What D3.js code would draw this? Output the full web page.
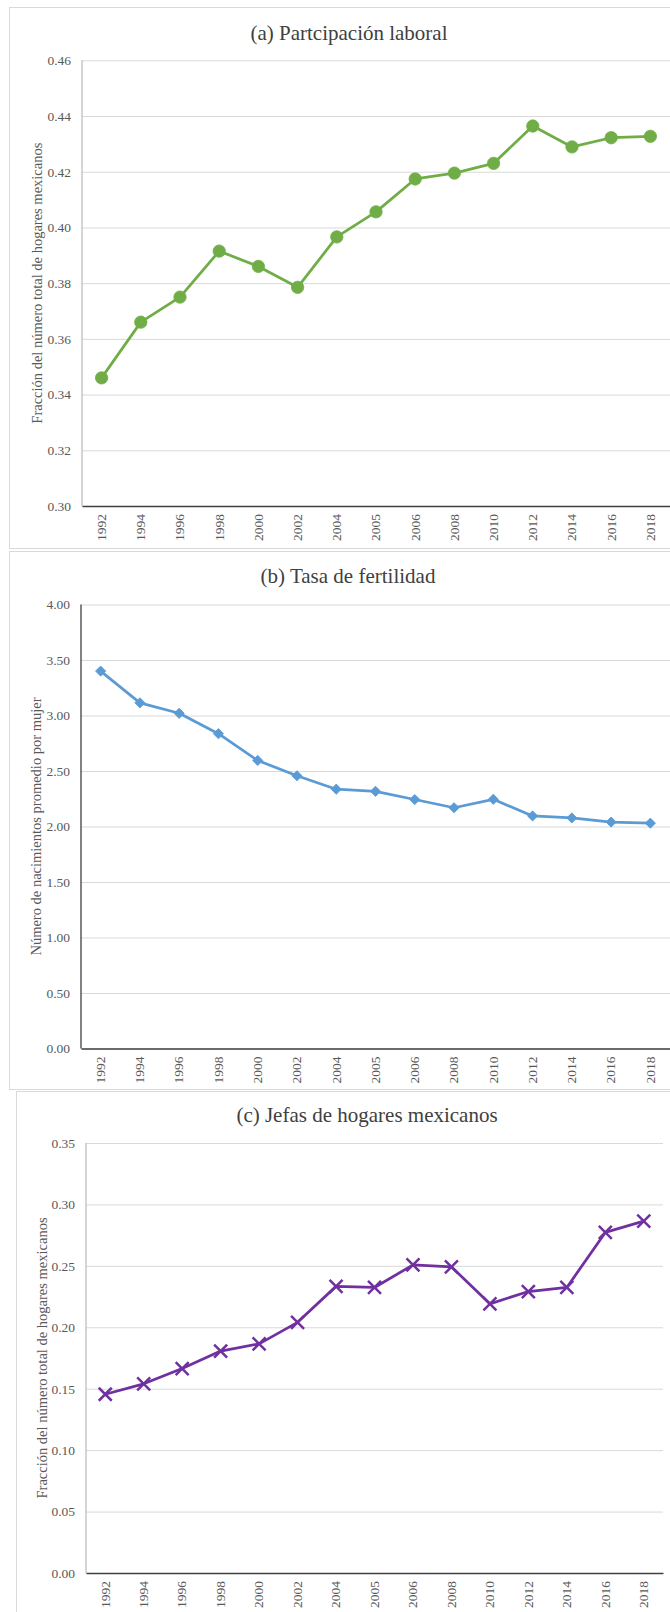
<!DOCTYPE html>
<html>
<head>
<meta charset="utf-8">
<script src="https://cdn.jsdelivr.net/npm/d3@7"></script>
<style>
  body { margin: 0; background: white; }
  svg { display: block; }
</style>
</head>
<body>
<div class="svg-wrap"></div>
<script>
// data
let years = ["1992", "1994", "1996", "1998", "2000", "2002", "2004", "2005",
  "2006", "2008", "2010", "2012", "2014", "2016", "2018"];

let participation = [0.346, 0.366, 0.375, 0.3915, 0.386, 0.3785, 0.3966, 0.4056,
  0.4174, 0.4195, 0.423, 0.4364, 0.4289, 0.4322, 0.4327];

let fertility = [3.40, 3.114, 3.02, 2.836, 2.595, 2.457, 2.336, 2.317,
  2.243, 2.169, 2.245, 2.095, 2.077, 2.04, 2.03];

let femaleHeads = [0.1455, 0.154, 0.1664, 0.1806, 0.1865, 0.204, 0.2333, 0.2324,
  0.2508, 0.2492, 0.2191, 0.2291, 0.2324, 0.2772, 0.2864];

let ticksA = [0.30, 0.32, 0.34, 0.36, 0.38, 0.40, 0.42, 0.44, 0.46];
let ticksB = [0, 0.5, 1, 1.5, 2, 2.5, 3, 3.5, 4];
let ticksC = [0, 0.05, 0.10, 0.15, 0.20, 0.25, 0.30, 0.35];

let titles = ["(a) Partcipación laboral", "(b) Tasa de fertilidad", "(c) Jefas de hogares mexicanos"];
let yTitles = ["Fracción del número total de hogares mexicanos",
  "Número de nacimientos promedio por mujer",
  "Fracción del número total de hogares mexicanos"];

var width = 670, height = 1612;
var serif = "'Liberation Serif', 'Times New Roman', Times, 'DejaVu Serif', serif";

let svg = d3.select(".svg-wrap")
  .append("svg")
  .attr("width", width)
  .attr("height", height)
  .attr("font-family", serif)
  .style("background-color", "white");

// layout of each panel (pixels)
let panels = [
  { frame: [9, 7, 700, 541], left: 82, right: 670, top: 60.3, bottom: 506,
    titleX: 349, titleY: 33, labelX: 37, values: participation, ticks: ticksA,
    color: "#70AD47", marker: "circle", yAxisColor: "#BFBFBF" },
  { frame: [9, 551, 700, 538], left: 81, right: 670, top: 604.5, bottom: 1048.5,
    titleX: 348, titleY: 576, labelX: 36, values: fertility, ticks: ticksB,
    color: "#5B9BD5", marker: "diamond", yAxisColor: "#404040" },
  { frame: [16, 1091, 700, 600], left: 86, right: 663, top: 1143, bottom: 1573,
    titleX: 367, titleY: 1115, labelX: 42, values: femaleHeads, ticks: ticksC,
    color: "#7030A0", marker: "x", yAxisColor: "#BFBFBF" }
];

panels.forEach((p, i) => drawPanel(p, i));

function drawPanel(p, i) {
  let g = svg.append("g");

  g.append("rect")
    .attr("x", p.frame[0] + 0.5)
    .attr("y", p.frame[1] + 0.5)
    .attr("width", p.frame[2])
    .attr("height", p.frame[3])
    .attr("fill", "white")
    .attr("stroke", "#D9D9D9")
    .attr("stroke-width", 1);

  let x = d3.scaleBand()
    .domain(years)
    .range([p.left, p.right]);

  let y = d3.scaleLinear()
    .domain([d3.min(p.ticks), d3.max(p.ticks)])
    .range([p.bottom, p.top]);

  // gridlines + y tick labels
  let yAxis = d3.axisLeft(y)
    .tickValues(p.ticks)
    .tickFormat(d3.format(".2f"))
    .tickSize(-(p.right - p.left))
    .tickPadding(11);

  let ya = g.append("g")
    .attr("transform", `translate(${p.left},0)`)
    .call(yAxis)
    .attr("font-family", serif)
    .attr("font-size", 13.5);
  ya.select(".domain").remove();
  ya.selectAll(".tick line").attr("stroke", "#D9D9D9");
  ya.selectAll(".tick text").attr("fill", "#595959");

  // y axis line
  g.append("line")
    .attr("x1", p.left).attr("x2", p.left)
    .attr("y1", p.top).attr("y2", p.bottom)
    .attr("stroke", p.yAxisColor)
    .attr("stroke-width", 1.3);

  // x axis
  let xAxis = d3.axisBottom(x).tickSize(0).tickPadding(0);
  let xa = g.append("g")
    .attr("transform", `translate(0,${p.bottom})`)
    .call(xAxis)
    .attr("font-family", serif)
    .attr("font-size", 13.5);
  xa.select(".domain").attr("stroke", "#404040").attr("stroke-width", 1.5);
  xa.selectAll(".tick text")
    .attr("fill", "#595959")
    .attr("transform", "rotate(-90)")
    .attr("text-anchor", "end")
    .attr("x", -8)
    .attr("y", 0)
    .attr("dy", "0.32em");

  // titles
  g.append("text")
    .attr("x", p.titleX)
    .attr("y", p.titleY)
    .attr("dy", "0.35em")
    .attr("text-anchor", "middle")
    .attr("fill", "#404040")
    .attr("font-family", serif)
    .attr("font-size", 21)
    .text(titles[i]);

  g.append("text")
    .attr("transform", `translate(${p.labelX},${(p.top + p.bottom) / 2}) rotate(-90)`)
    .attr("text-anchor", "middle")
    .attr("dy", "0.35em")
    .attr("fill", "#595959")
    .attr("font-family", serif)
    .attr("font-size", 14.5)
    .text(yTitles[i]);

  // series line
  let line = d3.line()
    .x((d, j) => x(years[j]) + x.bandwidth() / 2)
    .y(d => y(d));

  g.append("path")
    .datum(p.values)
    .attr("d", line)
    .attr("fill", "none")
    .attr("stroke", p.color)
    .attr("stroke-width", 2.75)
    .attr("stroke-linejoin", "round");

  // markers
  let symbolType = p.marker === "circle" ? d3.symbolCircle
    : p.marker === "diamond" ? d3.symbolSquare : d3.symbolX;
  let symbolSize = p.marker === "circle" ? 120 : p.marker === "diamond" ? 52 : 112;

  g.selectAll(".marker")
    .data(p.values)
    .enter()
    .append("path")
    .attr("class", "marker")
    .attr("d", d3.symbol(symbolType, symbolSize))
    .attr("transform", (d, j) => {
      let tx = x(years[j]) + x.bandwidth() / 2;
      let rot = p.marker === "diamond" ? " rotate(45)" : "";
      return `translate(${tx},${y(d)})${rot}`;
    })
    .attr("fill", p.marker === "x" ? "none" : p.color)
    .attr("stroke", p.color)
    .attr("stroke-width", p.marker === "x" ? 2.5 : 0.8);
}
</script>
</body>
</html>
